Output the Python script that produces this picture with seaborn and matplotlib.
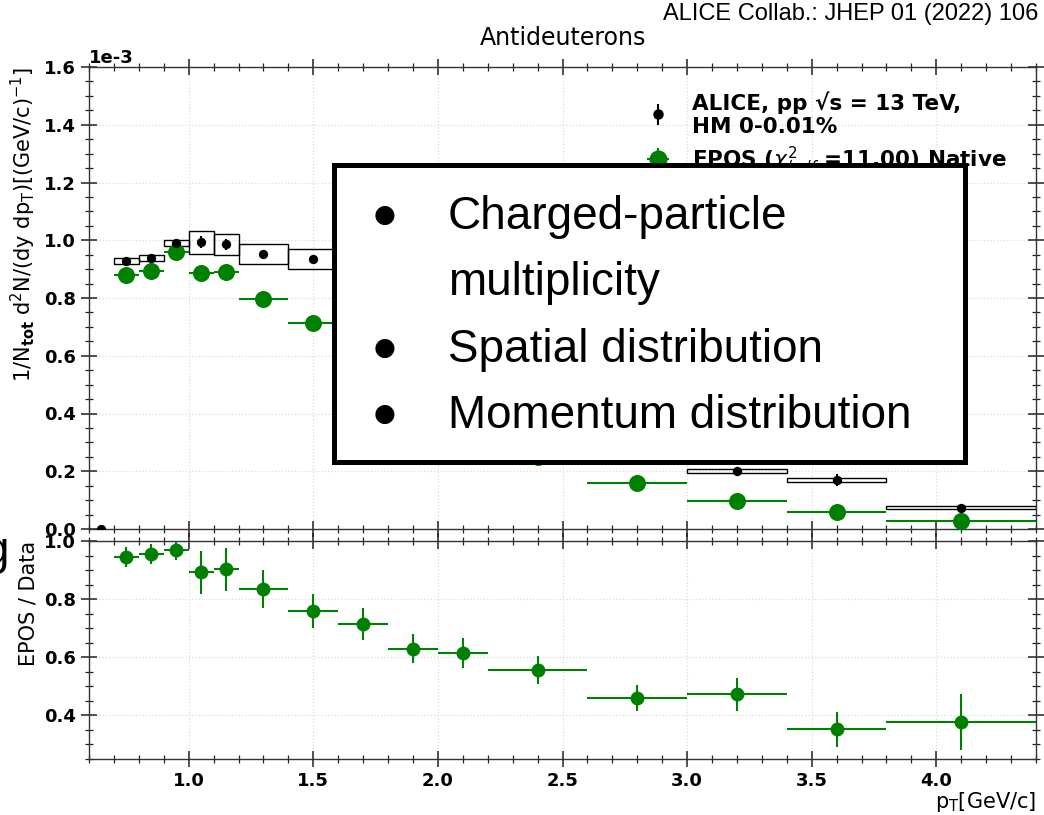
import numpy as np
import pandas as pd
import seaborn as sns
import matplotlib
matplotlib.use("Agg")
import matplotlib.pyplot as plt
from matplotlib.patches import Rectangle
from matplotlib.ticker import MultipleLocator
from matplotlib.lines import Line2D
from matplotlib.legend_handler import HandlerTuple

# ---------------- data ----------------
pt      = [0.65, 0.75, 0.85, 0.95, 1.05, 1.15, 1.3, 1.5, 1.7, 1.9, 2.1, 2.4, 2.8, 3.2, 3.6, 4.1]
bin_lo  = [0.6, 0.7, 0.8, 0.9, 1.0, 1.1, 1.2, 1.4, 1.6, 1.8, 2.0, 2.2, 2.6, 3.0, 3.4, 3.8]
bin_hi  = [0.7, 0.8, 0.9, 1.0, 1.1, 1.2, 1.4, 1.6, 1.8, 2.0, 2.2, 2.6, 3.0, 3.4, 3.8, 4.4]
# ALICE spectrum (units of 1e-3)
alice      = [0.0, 0.928, 0.938, 0.990, 0.993, 0.986, 0.953, 0.934, 0.85, 0.70, 0.58, 0.45, 0.345, 0.201, 0.169, 0.073]
alice_stat = [0.0, 0.005, 0.005, 0.005, 0.020, 0.020, 0.006, 0.006, 0.008, 0.008, 0.008, 0.008, 0.008, 0.008, 0.020, 0.006]
alice_sys  = [0.0, 0.0105, 0.010, 0.010, 0.039, 0.0365, 0.035, 0.034, 0.030, 0.025, 0.020, 0.016, 0.012, 0.0065, 0.006, 0.005]
# EPOS prediction (units of 1e-3)
epos       = [np.nan, 0.880, 0.894, 0.959, 0.885, 0.891, 0.798, 0.712, 0.61, 0.44, 0.36, 0.25, 0.159, 0.097, 0.060, 0.029]
epos_err   = [np.nan, 0.005, 0.005, 0.005, 0.005, 0.005, 0.005, 0.005, 0.005, 0.005, 0.005, 0.005, 0.004, 0.004, 0.004, 0.003]
# EPOS / Data
ratio      = [np.nan, 0.944, 0.956, 0.969, 0.893, 0.902, 0.834, 0.759, 0.715, 0.630, 0.615, 0.556, 0.460, 0.472, 0.352, 0.377]
ratio_err  = [np.nan, 0.035, 0.034, 0.035, 0.074, 0.075, 0.065, 0.059, 0.056, 0.050, 0.052, 0.047, 0.045, 0.056, 0.060, 0.095]

overlay_lines = ["Charged-particle", "multiplicity", "Spatial distribution", "Momentum distribution"]
overlay_bullets = [True, False, True, True]

df = pd.DataFrame(dict(pt=pt, lo=bin_lo, hi=bin_hi, alice=alice, stat=alice_stat, sys=alice_sys,
                       epos=epos, eerr=epos_err, ratio=ratio, rerr=ratio_err))
df["alice_abs"] = df["alice"] * 1e-3
df["epos_abs"] = df["epos"] * 1e-3
xerr = np.vstack([df.pt - df.lo, df.hi - df.pt])

# ---------------- style ----------------
sns.set_theme(style="ticks")
plt.rcParams["font.family"] = ["DejaVu Sans"]
plt.rcParams["axes.unicode_minus"] = False
for k in ["text.color", "axes.labelcolor", "xtick.color", "ytick.color", "axes.edgecolor"]:
    plt.rcParams[k] = "black"

W, H = 1044, 815
fig = plt.figure(figsize=(W / 100, H / 100), dpi=100)
fig.patch.set_facecolor("white")
ax1 = fig.add_axes([89 / W, 1 - 529 / H, 947 / W, 462 / H])
ax2 = fig.add_axes([89 / W, 1 - 759 / H, 947 / W, 218 / H])

GREEN = "#008000"

# ---- upper panel ----
for _, r in df.iterrows():
    if r.sys > 0:
        ax1.add_patch(Rectangle((r.lo, (r.alice - r.sys) * 1e-3), r.hi - r.lo, 2 * r.sys * 1e-3,
                                fill=False, ec="black", lw=1.0, zorder=2))
eb_alice = ax1.errorbar(df.pt, df.alice_abs, yerr=df.stat * 1e-3, fmt="none",
                        ecolor="black", elinewidth=1.5, zorder=4)
eb_epos = ax1.errorbar(df.pt, df.epos_abs, xerr=xerr, yerr=df.eerr * 1e-3, fmt="none",
                       ecolor=GREEN, elinewidth=1.5, zorder=3)
sns.scatterplot(data=df, x="pt", y="epos_abs", ax=ax1, color=GREEN, s=150, linewidth=0,
                zorder=5, legend=False)
sns.scatterplot(data=df, x="pt", y="alice_abs", ax=ax1, color="black", s=45, linewidth=0,
                zorder=6, legend=False)

h_alice = (eb_alice, Line2D([], [], ls="none", marker="o", color="black", markersize=6.5))
h_epos = (eb_epos, Line2D([], [], ls="none", marker="o", color=GREEN, markersize=12))
leg = ax1.legend([h_alice, h_epos],
                 ["ALICE, pp \u221as = 13 TeV,\nHM 0-0.01%",
                  r"EPOS ($\boldsymbol{\chi^2_{/ndf}}$ =11.00) Native"],
                 handler_map={tuple: HandlerTuple(ndivide=1)},
                 loc="upper left", bbox_to_anchor=((645 - 89) / 947, (529 - 91) / 462),
                 borderaxespad=0, borderpad=0, frameon=False,
                 prop=dict(weight="bold", size=15.5), handlelength=1.2, handletextpad=1.0,
                 labelspacing=0.35)

ax1.set_xlim(0.6, 4.4)
ax1.set_ylim(0, 1.6e-3)
ax1.yaxis.set_major_locator(MultipleLocator(0.2e-3))
ax1.yaxis.set_minor_locator(MultipleLocator(0.05e-3))
ax1.ticklabel_format(axis="y", style="sci", scilimits=(-3, -3))
ax1.set_title("Antideuterons", fontsize=17, pad=16)
ax1.set_ylabel(r"1/N$_{\mathbf{tot}}$ d$^2$N/(dy dp$_\mathrm{T}$)[(GeV/c)$^{-1}$]",
               loc="top", fontsize=15)

# ---- lower panel ----
ax2.errorbar(df.pt, df.ratio, xerr=xerr, yerr=df.rerr, fmt="none", ecolor=GREEN,
             elinewidth=1.5, zorder=3)
sns.scatterplot(data=df, x="pt", y="ratio", ax=ax2, color=GREEN, s=100, linewidth=0,
                zorder=5, legend=False)
ax2.set_xlim(0.6, 4.4)
ax2.set_ylim(0.25, 1.0)
ax2.yaxis.set_major_locator(MultipleLocator(0.2))
ax2.yaxis.set_minor_locator(MultipleLocator(0.05))
ax2.set_ylabel("EPOS / Data", loc="top", fontsize=15)
ax2.set_xlabel(r"p$_\mathrm{T}$[GeV/c]", loc="right", fontsize=15, labelpad=0)

for ax in (ax1, ax2):
    ax.xaxis.set_major_locator(MultipleLocator(0.5))
    ax.xaxis.set_minor_locator(MultipleLocator(0.1))
    ax.grid(True, which="major", color="#dcdcdc", ls=":", lw=0.9)
    ax.tick_params(which="both", direction="inout", top=True, right=True, labelsize=13,
                   color="#222222")
    ax.tick_params(which="major", length=12, width=1.1)
    ax.tick_params(which="minor", length=6, width=0.9)
    for s in ax.spines.values():
        s.set_color("#333333")
        s.set_linewidth(1.0)
ax1.tick_params(labelbottom=False)
ax1.set_xlabel("")

fig.canvas.draw()
for ax in (ax1, ax2):
    for lab in ax.get_xticklabels() + ax.get_yticklabels():
        lab.set_fontweight("bold")
off = ax1.yaxis.get_offset_text()
off.set_fontweight("bold")
off.set_fontsize(13)

# ---- annotations ----
fig.text(1038 / W, 1 - 14 / H, "ALICE Collab.: JHEP 01 (2022) 106", ha="right", va="center",
         fontsize=17, family="Liberation Sans")

# overlay box
fig.patches.append(Rectangle((333.5 / W, 1 - 462 / H), 631 / W, 297 / H,
                             transform=fig.transFigure, facecolor="white",
                             edgecolor="black", lw=3.6, zorder=10))
baselines = [229, 295, 362, 428]
for txt, has_b, yb in zip(overlay_lines, overlay_bullets, baselines):
    fig.text(448 / W, 1 - yb / H, txt, ha="left", va="baseline", fontsize=33,
             family="Liberation Sans", color="black", zorder=11)
    if has_b:
        fig.text(385 / W, 1 - (yb - 14) / H, "\u25CF", ha="center", va="center",
                 fontsize=18, color="black", zorder=11)

fig.text(9 / W, 1 - 564 / H, "g", ha="right", va="baseline", fontsize=33,
         family="Liberation Sans", color="black")

fig.savefig("out.png", dpi=100, facecolor="white")
